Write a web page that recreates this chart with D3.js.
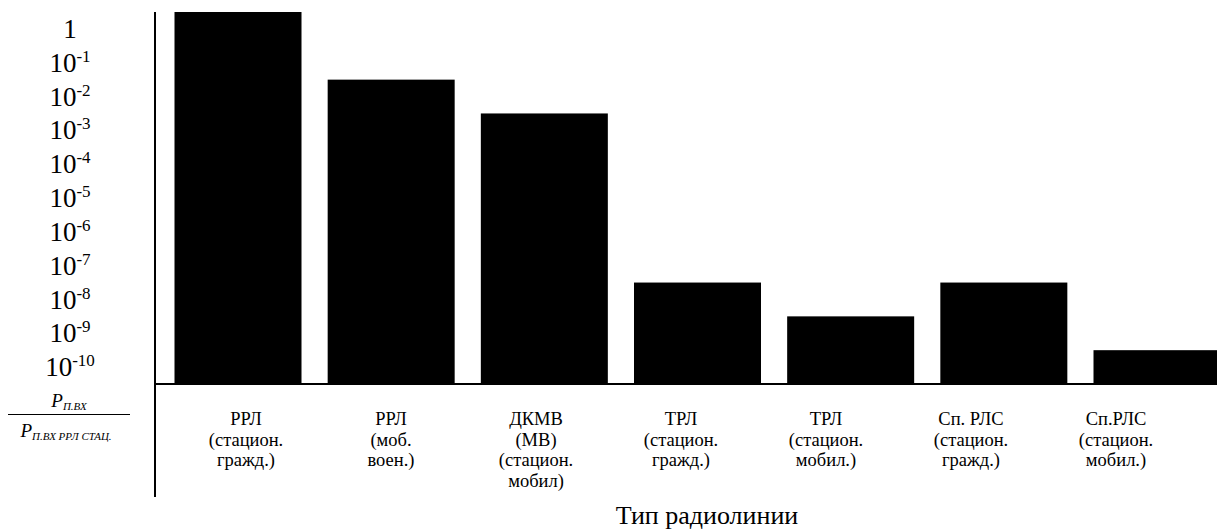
<!DOCTYPE html>
<html>
<head>
<meta charset="utf-8">
<script src="https://cdn.jsdelivr.net/npm/d3@7"></script>
<style>
  body { margin: 0; background: #fff; }
  svg { display: block; }
</style>
</head>
<body>
<svg id="chart" width="1217" height="530" font-family="Liberation Serif, DejaVu Serif, serif"></svg>
<script>
// Radio link types (label lines separated by "|")
const linkTypes = [
  "РРЛ|(стацион.|гражд.)",
  "РРЛ|(моб.|воен.)",
  "ДКМВ|(МВ)|(стацион.|мобил)",
  "ТРЛ|(стацион.|гражд.)",
  "ТРЛ|(стацион.|мобил.)",
  "Сп. РЛС|(стацион.|гражд.)",
  "Сп.РЛС|(стацион.|мобил.)"
];
// Relative received power P / P(stationary civil RRL)
const powerRatio = [3.16, 0.0316, 0.00316, 3.16e-8, 3.16e-9, 3.16e-8, 3.16e-10];
// Decade exponents shown on the vertical scale
const tickExponents = [0, -1, -2, -3, -4, -5, -6, -7, -8, -9, -10];
const xTitle = "Тип радиолинии";

const svg = d3.select("#chart");
const axisX = 155, baseY = 384, topY = 12, axisBottom = 497;

const y = d3.scaleLog()
  .domain([3.16e-11, 3.16])
  .range([baseY, topY]);

const xBar = d3.scalePoint().domain(linkTypes).range([238, 1157]);
const xLabel = d3.scalePoint().domain(linkTypes).range([246, 1116]);
const barWidth = 127;

// bars
svg.append("g").selectAll("rect")
  .data(powerRatio)
  .join("rect")
  .attr("x", (d, i) => xBar(linkTypes[i]) - barWidth / 2)
  .attr("y", d => y(d))
  .attr("width", barWidth)
  .attr("height", d => baseY - y(d))
  .attr("fill", "#000");

// vertical scale labels (1, 10^-1 ... 10^-10)
const yAxis = d3.axisLeft(y)
  .tickValues(tickExponents.map(e => Math.pow(10, e)))
  .tickSize(0)
  .tickFormat("");
const gy = svg.append("g").attr("transform", `translate(${axisX},0)`).call(yAxis);
gy.attr("font-family", null).attr("font-size", null);
gy.select(".domain").remove();
gy.selectAll(".tick text").each(function(d, i) {
  const t = d3.select(this)
    .attr("x", 70 - axisX)
    .attr("dy", "0.32em")
    .attr("text-anchor", "middle")
    .attr("fill", "#000")
    .attr("font-size", 27);
  const e = tickExponents[i];
  if (e === 0) {
    t.append("tspan").text("1");
  } else {
    t.append("tspan").text("10");
    t.append("tspan").attr("font-size", 17).attr("dy", -10).text(String(e));
  }
});

// axis lines
svg.append("line")
  .attr("x1", axisX).attr("x2", axisX)
  .attr("y1", topY).attr("y2", axisBottom)
  .attr("stroke", "#000").attr("stroke-width", 2);
svg.append("line")
  .attr("x1", axisX).attr("x2", 1217)
  .attr("y1", baseY).attr("y2", baseY)
  .attr("stroke", "#000").attr("stroke-width", 2);

// category labels
const lab = svg.append("g").selectAll("text")
  .data(linkTypes)
  .join("text")
  .attr("text-anchor", "middle")
  .attr("font-size", 18.5)
  .attr("transform", d => `translate(${xLabel(d)},425)`);
lab.selectAll("tspan")
  .data(d => d.split("|"))
  .join("tspan")
  .attr("x", 0)
  .attr("y", (d, i) => i * 20.7)
  .text(d => d);

// x title
svg.append("text")
  .attr("x", 707).attr("y", 524)
  .attr("text-anchor", "middle")
  .attr("font-size", 26)
  .text(xTitle);

// y title as a fraction
const frac = svg.append("g");
const num = frac.append("text")
  .attr("x", 69).attr("y", 407)
  .attr("text-anchor", "middle")
  .attr("font-style", "italic");
num.append("tspan").attr("font-size", 19).text("P");
num.append("tspan").attr("font-size", 11).attr("dy", 3).text("П.ВХ");
frac.append("line")
  .attr("x1", 8).attr("x2", 130)
  .attr("y1", 414.5).attr("y2", 414.5)
  .attr("stroke", "#000").attr("stroke-width", 1);
const den = frac.append("text")
  .attr("x", 66).attr("y", 437)
  .attr("text-anchor", "middle")
  .attr("font-style", "italic");
den.append("tspan").attr("font-size", 19).text("P");
den.append("tspan").attr("font-size", 11).attr("dy", 3).text("П.ВХ РРЛ СТАЦ.");
</script>
</body>
</html>
